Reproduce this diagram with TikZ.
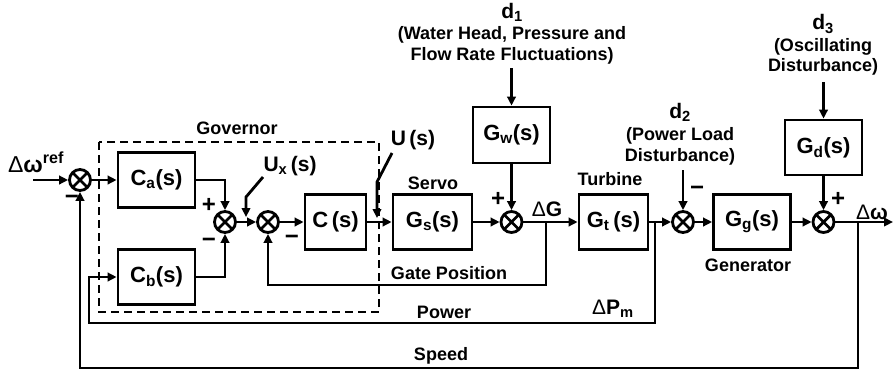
\documentclass[tikz,border=0pt]{standalone}
\usepackage{fontspec}
\setmainfont{Liberation Sans}
\usetikzlibrary{arrows.meta}
\begin{document}
\begin{tikzpicture}[x=1pt,y=-1pt,line width=2.8pt,
  blk/.style={draw, minimum height=55pt, inner sep=0pt, font=\bfseries\fontsize{22}{26}\selectfont},
  sumj/.style={draw, circle, minimum size=21pt, inner sep=0pt,
    path picture={\draw[line width=2.8pt] (path picture bounding box.north west) -- (path picture bounding box.south east)
      (path picture bounding box.north east) -- (path picture bounding box.south west);}},
  txt/.style={inner sep=0pt, font=\bfseries\fontsize{18}{21}\selectfont},
  big/.style={inner sep=0pt, font=\bfseries\fontsize{21}{24}\selectfont},
  sgn/.style={inner sep=0pt, font=\bfseries\fontsize{24}{26}\selectfont},
  arr/.style={-{Triangle[length=9pt,width=8.5pt]}},
  gov/.style={draw, dash pattern=on 8pt off 5pt}]
\useasboundingbox (0,0) rectangle (893,373);
% governor box
\draw[gov] (99,142) rectangle (379,312);
% blocks
\node[sumj] (s1) at (80,180) {};
\node[blk, minimum width=77pt] (ca) at (156.5,180) {C\textsubscript{a}(s)};
\node[blk, minimum width=77pt] (cb) at (156.5,277) {C\textsubscript{b}(s)};
\node[sumj] (s2) at (225,222) {};
\node[sumj] (s3) at (268,222) {};
\node[blk, minimum width=61pt] (c) at (335.5,222) {C\,(s)};
\node[blk, minimum width=79pt] (gs) at (432.5,222) {G\textsubscript{s}(s)};
\node[sumj] (s4) at (511.5,222) {};
\node[blk, minimum width=77pt, minimum height=56pt] (gw) at (511.5,135) {G\textsubscript{w}(s)};
\node[blk, minimum width=69pt] (gt) at (613.5,222) {G\textsubscript{t}\,(s)};
\node[sumj] (s5) at (683,222) {};
\node[blk, minimum width=77pt] (gg) at (752,222) {G\textsubscript{g}(s)};
\node[sumj] (s6) at (823.5,222) {};
\node[blk, minimum width=77pt] (gd) at (823.5,147.5) {G\textsubscript{d}(s)};
% coordinates
\coordinate (in) at (33,180);
\coordinate (d1) at (511.5,68);
\coordinate (d2) at (683,170);
\coordinate (d3) at (823.5,82);
\coordinate (out) at (893,222);
\coordinate (gp) at (546,222);
\coordinate (gpb) at (546,285);
\coordinate (pw) at (655,222);
\coordinate (pwb) at (655,323);
\coordinate (pwl) at (89,323);
\coordinate (sp) at (858,222);
\coordinate (spb) at (858,368);
\coordinate (uxa) at (263,177);
\coordinate (uxb) at (246,197);
\coordinate (uxc) at (246,217);
\coordinate (usa) at (392,153);
\coordinate (usb) at (377,182);
\coordinate (usc) at (377,218);
% connectors
\draw[arr] (in) -- (s1);
\draw[arr] (s1) -- (ca);
\draw[arr] (ca) -| (s2);
\draw[arr] (cb) -| (s2);
\draw[arr] (s2) -- (s3);
\draw[arr] (s3) -- (c);
\draw[arr] (c) -- (gs);
\draw[arr] (gs) -- (s4);
\draw[arr] (d1) -- (gw);
\draw[arr] (gw) -- (s4);
\draw[arr] (s4) -- (gt);
\draw[arr] (gt) -- (s5);
\draw[arr] (d2) -- (s5);
\draw[arr] (s5) -- (gg);
\draw[arr] (gg) -- (s6);
\draw[arr] (d3) -- (gd);
\draw[arr] (gd) -- (s6);
\draw[arr] (s6) -- (out);
\draw[arr] (gp) -- (gpb) -| (s3);
\draw[arr] (pw) -- (pwb) -- (pwl) |- (cb);
\draw[arr] (sp) -- (spb) -| (s1);
\draw[arr] (uxa) -- (uxb) -- (uxc);
\draw[arr] (usa) -- (usb) -- (usc);
% labels
\node[inner sep=0pt, font=\bfseries\fontsize{23}{26}\selectfont] (lref) at (36,162) {{\mdseries Δ}ω\textsuperscript{ref}};
\node[sgn] (m1) at (72,200) {−};
\node[sgn] (p2) at (209,205) {+};
\node[sgn] (m2) at (209,243) {−};
\node[sgn] (m3) at (292,240) {−};
\node[txt] (lgov) at (237,128) {Governor};
\node[big] (ux) at (290,166) {U\textsubscript{x}\,(s)};
\node[big] (us) at (413,140) {U\,(s)};
\node[txt] (lservo) at (433,183) {Servo};
\node[sgn] (p4) at (498,199) {+};
\node[big] (ldg) at (547,209) {{\mdseries Δ}G};
\node[txt] (lturb) at (610,179) {Turbine};
\node[txt] (lgate) at (449,273) {Gate Position};
\node[txt] (lpow) at (444,312) {Power};
\node[big] (ldp) at (613,309) {{\mdseries Δ}P\textsubscript{m}};
\node[txt] (lspeed) at (441,356) {Speed};
\node[txt] (lgen) at (748,265) {Generator};
\node[big] (ld1) at (512,12) {d\textsubscript{1}};
\node[txt] (ld1a) at (512,35) {(Water Head, Pressure and};
\node[txt] (ld1b) at (512,56) {Flow Rate Fluctuations)};
\node[big] (ld2) at (680,112) {d\textsubscript{2}};
\node[txt] (ld2a) at (680,136) {(Power Load};
\node[txt] (ld2b) at (680,157) {Disturbance)};
\node[sgn] (m5) at (697,191) {−};
\node[big] (ld3) at (823,24) {d\textsubscript{3}};
\node[txt] (ld3a) at (823,47) {(Oscillating};
\node[txt] (ld3b) at (823,67) {Disturbance)};
\node[sgn] (p6) at (838,199) {+};
\node[big] (lout) at (872,212) {{\mdseries Δ}ω};
\end{tikzpicture}
\end{document}
